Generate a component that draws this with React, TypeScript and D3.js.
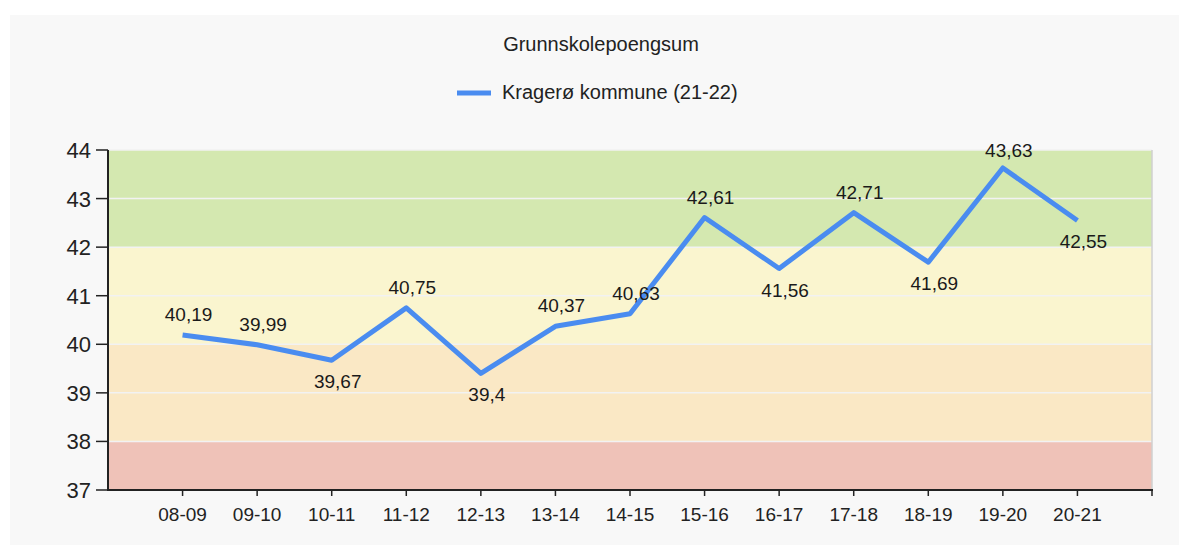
import React from "react";
import * as d3 from "d3";

const seasons = ["08-09", "09-10", "10-11", "11-12", "12-13", "13-14", "14-15", "15-16", "16-17", "17-18", "18-19", "19-20", "20-21"];
const points = [40.19, 39.99, 39.67, 40.75, 39.4, 40.37, 40.63, 42.61, 41.56, 42.71, 41.69, 43.63, 42.55];
// labels drawn below the line at local dips
const labelBelow = [false, false, true, false, true, false, false, false, true, false, true, false, true];
const yTicks = [37, 38, 39, 40, 41, 42, 43, 44];
const bands = [
  { from: 37, to: 38, color: "#efc2b8" },
  { from: 38, to: 40, color: "#fae8c5" },
  { from: 40, to: 42, color: "#faf5cf" },
  { from: 42, to: 44, color: "#d4e8b0" },
];
const title = "Grunnskolepoengsum";
const seriesName = "Kragerø kommune (21-22)";

const W = 1179;
const H = 545;
const font = "'Liberation Sans', Arial, sans-serif";
const lineColor = "#4a8cf0";

const App = () => {
  const left = 108;
  const right = 1152;
  const top = 150;
  const bottom = 490;

  // categories sit at 1..13 with one empty slot on each side
  const x = d3.scaleLinear().domain([0, seasons.length + 1]).range([left, right]);
  const y = d3.scaleLinear().domain([37, 44]).range([bottom, top]);

  const line = d3
    .line<number>()
    .x((d, i) => x(i + 1))
    .y((d) => y(d));

  const fmt = (v: number) => String(v).replace(".", ",");

  return (
    <svg
      width={W}
      height={H}
      style={{ position: "absolute", left: 0, top: 0 }}
      fontFamily={font}
    >
      <rect x={0} y={0} width={W} height={H} fill="#ffffff" />
      <rect x={10} y={15} width={W - 10} height={H - 15} fill="#f8f8f8" />

      <text x={601} y={51} textAnchor="middle" fontSize={20} fill="#222">
        {title}
      </text>

      {/* legend */}
      <line x1={457} x2={491} y1={93} y2={93} stroke={lineColor} strokeWidth={5} />
      <text x={502} y={99} fontSize={20} fill="#222">
        {seriesName}
      </text>

      {/* background bands */}
      {bands.map((b) => (
        <rect
          key={b.from}
          x={left}
          y={y(b.to)}
          width={right - left}
          height={y(b.from) - y(b.to)}
          fill={b.color}
        />
      ))}

      {/* gridlines */}
      {yTicks.slice(1).map((t) => (
        <line key={t} x1={left} x2={right} y1={y(t)} y2={y(t)} stroke="#f2f2f2" strokeWidth={1.5} />
      ))}
      <line x1={right} x2={right} y1={top} y2={bottom} stroke="#d0d0d0" strokeWidth={1.5} />

      {/* axes */}
      <line x1={left} x2={left} y1={top} y2={bottom + 1} stroke="#222" strokeWidth={2} />
      <line x1={left - 1} x2={right + 1} y1={bottom} y2={bottom} stroke="#222" strokeWidth={2} />

      {yTicks.map((t) => (
        <g key={t}>
          <line x1={left - 12} x2={left} y1={y(t)} y2={y(t)} stroke="#222" strokeWidth={1.5} />
          <text x={91} y={y(t) + 8} textAnchor="end" fontSize={22} fill="#222">
            {t}
          </text>
        </g>
      ))}

      {seasons.map((s, i) => (
        <g key={s}>
          <line x1={x(i + 1)} x2={x(i + 1)} y1={bottom} y2={bottom + 6} stroke="#222" strokeWidth={1.5} />
          <text x={x(i + 1)} y={521} textAnchor="middle" fontSize={19} fill="#222">
            {s}
          </text>
        </g>
      ))}
      <line x1={right} x2={right} y1={bottom} y2={bottom + 6} stroke="#222" strokeWidth={1.5} />

      <path
        d={line(points) || ""}
        fill="none"
        stroke={lineColor}
        strokeWidth={5}
        strokeLinejoin="round"
      />

      {points.map((v, i) => (
        <text
          key={i}
          x={x(i + 1) + 6}
          y={labelBelow[i] ? y(v) + 28 : Math.max(y(v) - 14, 157)}
          textAnchor="middle"
          fontSize={19}
          fill="#1a1a1a"
        >
          {fmt(v)}
        </text>
      ))}
    </svg>
  );
};

export default App;
